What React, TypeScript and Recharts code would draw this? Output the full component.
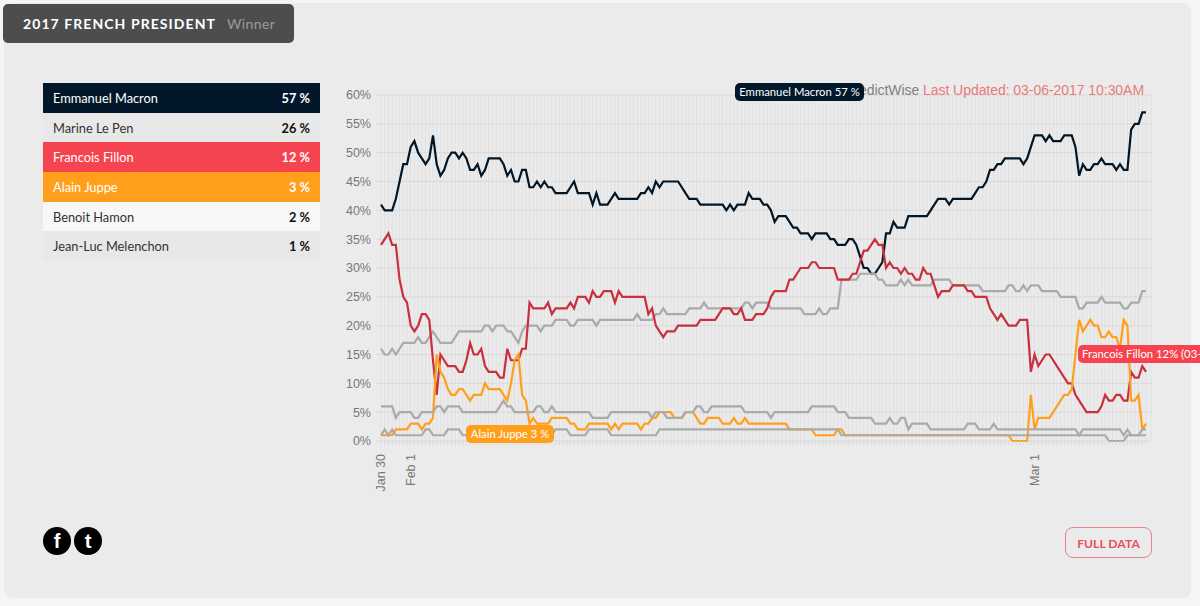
import { CartesianGrid, Line, LineChart, XAxis, YAxis } from "recharts";

const macron = [
  41, 40, 40, 40, 42, 45, 48, 48, 51, 52, 50, 49, 48, 49, 53, 48, 46, 47, 49, 50,
  50, 49, 50, 49, 47, 47, 48, 46, 47, 49, 49, 49, 49, 48, 46, 47, 45, 45, 47, 47,
  44, 44, 45, 44, 45, 44, 44, 43, 43, 43, 43, 44, 45, 43, 43, 43, 43, 41, 43, 41,
  41, 41, 42, 43, 42, 42, 42, 42, 42, 42, 43, 43, 44, 43, 45, 44, 45, 45, 45, 45,
  45, 44, 43, 42, 42, 42, 41, 41, 41, 41, 41, 41, 41, 40, 41, 40, 41, 41, 41, 43,
  42, 42, 42, 41, 41, 40, 38, 39, 39, 39, 38, 37, 37, 36, 36, 36, 35, 36, 36, 36,
  36, 35, 35, 34, 34, 34, 35, 35, 34, 32, 30, 30, 29, 29, 30, 31, 36, 36, 38, 37,
  37, 37, 39, 39, 39, 39, 39, 39, 40, 41, 42, 42, 42, 41, 42, 42, 42, 42, 42, 42,
  43, 44, 44, 45, 47, 47, 48, 48, 49, 49, 49, 49, 49, 48, 49, 51, 53, 53, 53, 52,
  53, 52, 52, 52, 53, 53, 53, 51, 46, 48, 47, 47, 48, 48, 49, 48, 48, 48, 47, 48,
  47, 47, 54, 55, 55, 57, 57,
];

const lePen = [
  16, 15, 15, 16, 15, 16, 17, 17, 17, 17, 18, 17, 17, 18, 19, 18, 17, 17, 17, 17,
  18, 19, 19, 19, 19, 19, 19, 19, 20, 20, 19, 20, 20, 20, 19, 19, 18, 17, 19, 20,
  20, 20, 20, 19, 20, 20, 20, 21, 21, 21, 21, 20, 20, 21, 21, 21, 21, 21, 20, 21,
  21, 21, 21, 21, 21, 21, 21, 21, 21, 22, 21, 21, 21, 21, 22, 22, 23, 22, 22, 22,
  22, 22, 22, 23, 23, 23, 23, 24, 23, 23, 23, 23, 23, 23, 23, 23, 23, 23, 24, 24,
  23, 24, 24, 24, 24, 23, 23, 23, 23, 23, 23, 23, 23, 23, 22, 22, 22, 22, 23, 22,
  22, 23, 23, 23, 28, 28, 28, 28, 28, 29, 29, 29, 29, 29, 28, 28, 27, 27, 27, 27,
  28, 27, 28, 27, 27, 27, 27, 27, 27, 28, 28, 28, 28, 28, 27, 27, 27, 27, 27, 27,
  27, 27, 26, 26, 26, 26, 26, 26, 26, 27, 27, 26, 26, 27, 26, 27, 27, 27, 26, 26,
  26, 26, 26, 25, 25, 25, 25, 25, 23, 23, 24, 24, 24, 24, 25, 24, 24, 24, 24, 24,
  23, 23, 24, 24, 24, 26, 26,
];

const fillon = [
  34, 35, 36, 34, 34, 28, 25, 24, 20, 19, 20, 22, 22, 21, 14, 8, 15, 14, 13, 13,
  13, 12, 12, 14, 17, 15, 15, 16, 13, 12, 12, 12, 11, 11, 16, 14, 14, 14, 16, 16,
  24, 23, 23, 23, 23, 24, 22, 23, 23, 23, 23, 24, 23, 25, 25, 25, 24, 26, 25, 25,
  26, 26, 26, 24, 26, 25, 25, 25, 25, 25, 25, 25, 22, 23, 20, 19, 18, 19, 19, 19,
  20, 20, 20, 20, 20, 20, 21, 21, 21, 21, 21, 22, 23, 23, 23, 22, 22, 23, 21, 21,
  21, 22, 22, 22, 23, 25, 26, 26, 26, 26, 28, 28, 29, 30, 30, 30, 31, 31, 30, 30,
  30, 30, 30, 28, 28, 28, 28, 29, 29, 31, 33, 33, 34, 35, 34, 34, 30, 31, 30, 30,
  29, 30, 29, 29, 28, 28, 30, 29, 29, 27, 25, 26, 26, 26, 27, 27, 27, 27, 26, 26,
  25, 25, 25, 25, 23, 22, 21, 22, 21, 20, 20, 20, 21, 21, 21, 12, 15, 13, 14, 15,
  15, 14, 13, 12, 11, 10, 10, 8, 7, 6, 5, 5, 5, 5, 6, 8, 7, 7, 8, 8,
  7, 7, 12, 11, 11, 13, 12,
];

const juppe = [
  1, 1, 1, 1, 2, 2, 2, 2, 3, 3, 3, 2, 3, 3, 4, 15, 12, 11, 9, 8,
  8, 9, 9, 8, 7, 8, 8, 8, 10, 9, 9, 9, 9, 8, 7, 10, 14, 15, 8, 7,
  3, 4, 3, 3, 3, 3, 4, 4, 4, 4, 4, 3, 3, 2, 2, 2, 3, 3, 3, 3,
  3, 3, 2, 3, 2, 3, 3, 3, 3, 3, 2, 3, 3, 4, 4, 5, 5, 5, 5, 4,
  4, 4, 5, 5, 5, 4, 3, 3, 4, 4, 4, 4, 3, 3, 3, 4, 3, 3, 4, 3,
  3, 3, 3, 3, 3, 3, 3, 3, 3, 3, 2, 2, 2, 2, 2, 2, 2, 1, 1, 1,
  1, 1, 1, 2, 2, 1, 1, 1, 1, 1, 1, 1, 1, 1, 1, 1, 1, 1, 1, 1,
  1, 1, 1, 1, 1, 1, 1, 1, 1, 1, 1, 1, 1, 1, 1, 1, 1, 1, 1, 1,
  1, 1, 1, 1, 1, 1, 1, 1, 1, 1, 0, 0, 0, 0, 0, 8, 2, 4, 4, 4,
  4, 5, 6, 7, 8, 8, 9, 15, 21, 19, 20, 21, 20, 20, 18, 18, 19, 18, 18, 16,
  21, 20, 7, 7, 8, 2, 3,
];

const hamon = [
  6, 6, 6, 6, 4, 5, 5, 5, 5, 4, 4, 5, 5, 5, 5, 6, 6, 5, 6, 6,
  6, 6, 5, 5, 5, 5, 5, 5, 5, 5, 5, 5, 6, 7, 6, 6, 5, 5, 5, 5,
  5, 5, 6, 6, 5, 5, 6, 5, 5, 5, 5, 5, 5, 5, 5, 5, 5, 4, 4, 4,
  4, 4, 5, 5, 5, 5, 5, 5, 5, 5, 5, 5, 5, 4, 5, 5, 5, 4, 4, 4,
  4, 4, 5, 5, 5, 6, 6, 5, 5, 6, 6, 6, 6, 6, 6, 6, 6, 6, 5, 5,
  5, 5, 5, 5, 5, 4, 5, 5, 5, 5, 5, 5, 5, 5, 5, 5, 6, 6, 6, 6,
  6, 6, 6, 5, 5, 5, 4, 4, 4, 4, 4, 4, 4, 3, 3, 3, 3, 4, 3, 3,
  4, 4, 2, 3, 3, 3, 3, 3, 2, 2, 2, 2, 2, 2, 2, 2, 2, 2, 3, 3,
  3, 2, 2, 2, 2, 3, 2, 2, 2, 2, 2, 2, 2, 2, 2, 2, 2, 2, 2, 2,
  2, 2, 2, 2, 2, 2, 2, 2, 1, 2, 2, 2, 2, 2, 2, 2, 2, 2, 2, 2,
  1, 2, 1, 1, 1, 2, 2,
];

const melenchon = [
  1, 2, 1, 2, 1, 1, 1, 1, 1, 1, 1, 1, 2, 2, 1, 1, 1, 1, 2, 2,
  2, 2, 1, 1, 1, 1, 1, 1, 1, 1, 1, 1, 1, 1, 1, 1, 1, 1, 1, 1,
  1, 1, 1, 1, 1, 1, 1, 2, 2, 2, 2, 1, 1, 1, 1, 1, 2, 2, 2, 2,
  2, 2, 1, 1, 1, 1, 1, 1, 1, 1, 1, 1, 1, 1, 1, 2, 2, 2, 2, 2,
  2, 2, 2, 2, 2, 2, 2, 2, 2, 2, 2, 2, 2, 2, 2, 2, 2, 2, 2, 2,
  2, 2, 2, 2, 2, 2, 2, 2, 2, 2, 2, 2, 2, 2, 2, 2, 2, 2, 2, 2,
  2, 2, 2, 2, 1, 1, 1, 1, 1, 1, 1, 1, 1, 1, 1, 1, 1, 1, 1, 1,
  1, 1, 1, 1, 1, 1, 1, 1, 1, 1, 1, 1, 1, 1, 1, 1, 1, 1, 1, 1,
  1, 1, 1, 1, 1, 1, 1, 1, 1, 1, 1, 1, 1, 1, 1, 1, 1, 1, 1, 1,
  1, 1, 1, 1, 1, 1, 1, 1, 1, 1, 1, 1, 1, 1, 1, 1, 0, 0, 0, 0,
  0, 1, 1, 1, 1, 1, 1,
];

const tickLabels: Record<number, string> = { 0: "Jan 30", 8: "Feb 1", 176: "Mar 1" };
const yTicks = [0, 5, 10, 15, 20, 25, 30, 35, 40, 45, 50, 55, 60];

const candidates = [
  { name: "Emmanuel Macron", pct: "57 %", bg: "#02172a", color: "#fff", strong: "#fff" },
  { name: "Marine Le Pen", pct: "26 %", bg: "#e8e8e8", color: "#333", strong: "#111" },
  { name: "Francois Fillon", pct: "12 %", bg: "#f5444f", color: "#fff", strong: "#fff" },
  { name: "Alain Juppe", pct: "3 %", bg: "#ff9f1c", color: "#fff", strong: "#fff" },
  { name: "Benoit Hamon", pct: "2 %", bg: "#f7f7f7", color: "#333", strong: "#111" },
  { name: "Jean-Luc Melenchon", pct: "1 %", bg: "#e8e8e8", color: "#333", strong: "#111" },
];

const data = macron.map((v, i) => ({
  i,
  macron: v,
  lePen: lePen[i],
  fillon: fillon[i],
  juppe: juppe[i],
  hamon: hamon[i],
  melenchon: melenchon[i],
}));

const uiFont = "Lato, sans-serif";
const chartFont = "'Liberation Sans', Arial, sans-serif";

function DateTick({ x, y, payload }: any) {
  const label = tickLabels[payload.value];
  if (!label) return null;
  return (
    <text
      transform={`translate(${x + 4},${y + 7}) rotate(-90)`}
      textAnchor="end"
      fontSize={12.5}
      fontFamily={chartFont}
      fill="#777"
    >
      {label}
    </text>
  );
}

function Pill({ text, bg, left, top, width }: { text: string; bg: string; left: number; top: number; width: number }) {
  return (
    <div
      style={{
        position: "absolute",
        left,
        top,
        width,
        height: 18,
        lineHeight: "18px",
        background: bg,
        color: "#fff",
        borderRadius: 5,
        fontSize: 11.3,
        fontFamily: uiFont,
        textAlign: "center",
        whiteSpace: "nowrap",
        overflow: "hidden",
      }}
    >
      {text}
    </div>
  );
}

function SocialIcon({ left, glyph }: { left: number; glyph: string }) {
  return (
    <div
      style={{
        position: "absolute",
        left,
        top: 527,
        width: 28,
        height: 28,
        borderRadius: "50%",
        background: "#000",
        color: "#fff",
        fontFamily: chartFont,
        fontWeight: 700,
        fontSize: 20,
        lineHeight: "28px",
        textAlign: "center",
      }}
    >
      {glyph}
    </div>
  );
}

export default function App() {
  return (
    <div style={{ position: "absolute", left: 0, top: 0, width: 1200, height: 606, overflow: "hidden", background: "#f5f5f5" }}>
      <div style={{ position: "absolute", left: 4, top: 3, width: 1187, height: 595, background: "#ebebeb", borderRadius: 8 }} />

      <div
        style={{
          position: "absolute",
          left: 3,
          top: 4,
          width: 291,
          height: 39,
          lineHeight: "39px",
          background: "#4d4d4d",
          borderRadius: 5,
          fontFamily: uiFont,
          whiteSpace: "nowrap",
        }}
      >
        <span style={{ position: "absolute", left: 20, color: "#fff", fontWeight: 700, fontSize: 14, letterSpacing: 1.07 }}>
          2017 FRENCH PRESIDENT
        </span>
        <span style={{ position: "absolute", left: 224, color: "#9a9a9a", fontSize: 14, letterSpacing: 0.4 }}>Winner</span>
      </div>

      <div style={{ position: "absolute", left: 43, top: 83, width: 277, fontFamily: uiFont, fontSize: 12.8 }}>
        {candidates.map((c) => (
          <div
            key={c.name}
            style={{
              height: 29.7,
              lineHeight: "30.5px",
              background: c.bg,
              color: c.color,
              padding: "0 10px",
              display: "flex",
              justifyContent: "space-between",
            }}
          >
            <span>{c.name}</span>
            <span style={{ color: c.strong, fontWeight: 700 }}>{c.pct}</span>
          </div>
        ))}
      </div>

      <div style={{ position: "absolute", left: 330, top: 80 }}>
        <LineChart
          width={830}
          height={440}
          data={data}
          margin={{ top: 15, right: 9, left: 0, bottom: 0 }}
        >
          <CartesianGrid horizontal={false} stroke="#e1e1e1" strokeWidth={1} />
          <CartesianGrid vertical={false} stroke="#d9d9d9" strokeWidth={1} />
          <XAxis
            dataKey="i"
            type="category"
            interval={0}
            height={79}
            padding={{ left: 0, right: 5 }}
            axisLine={false}
            tickLine={{ stroke: "#d9d9d9" }}
            tickSize={4}
            tick={<DateTick />}
          />
          <YAxis
            width={51}
            domain={[0, 60]}
            ticks={yTicks}
            tickFormatter={(v: number) => `${v}%`}
            axisLine={false}
            tickLine={{ stroke: "#d9d9d9" }}
            tickSize={5}
            tickMargin={5}
            tick={{ fontSize: 12.5, fill: "#777", fontFamily: chartFont }}
          />
          <Line dataKey="macron" stroke="#011627" strokeWidth={2.2} dot={false} isAnimationActive={false} />
          <Line dataKey="lePen" stroke="#aaaaaa" strokeWidth={2.2} dot={false} isAnimationActive={false} />
          <Line dataKey="fillon" stroke="#c9303e" strokeWidth={2.2} dot={false} isAnimationActive={false} />
          <Line dataKey="juppe" stroke="#ff9f1c" strokeWidth={2.2} dot={false} isAnimationActive={false} />
          <Line dataKey="hamon" stroke="#aaaaaa" strokeWidth={2.2} dot={false} isAnimationActive={false} />
          <Line dataKey="melenchon" stroke="#aaaaaa" strokeWidth={2.2} dot={false} isAnimationActive={false} />
        </LineChart>
      </div>

      <div style={{ position: "absolute", right: 56, top: 82, fontFamily: chartFont, fontSize: 14, letterSpacing: -0.05, whiteSpace: "nowrap" }}>
        <span style={{ color: "#808080" }}>PredictWise </span>
        <span style={{ color: "#e87a7a" }}>Last Updated: 03-06-2017 10:30AM</span>
      </div>

      <Pill text="Emmanuel Macron 57 %" bg="#02172a" left={735} top={83} width={129} />
      <Pill text="Alain Juppe 3 %" bg="#ff9f1c" left={466} top={425} width={88} />
      <div
        style={{
          position: "absolute",
          left: 1078,
          top: 345,
          width: 140,
          height: 18,
          lineHeight: "18px",
          paddingLeft: 4,
          background: "#f5444f",
          color: "#fff",
          borderRadius: 5,
          fontSize: 11.3,
          fontFamily: uiFont,
          whiteSpace: "nowrap",
        }}
      >
        Francois Fillon 12% (03-06)
      </div>

      <SocialIcon left={43} glyph="f" />
      <SocialIcon left={74} glyph="t" />

      <div
        style={{
          position: "absolute",
          left: 1065,
          top: 527,
          width: 87,
          height: 31,
          lineHeight: "31px",
          boxSizing: "border-box",
          border: "1px solid #e8838b",
          borderRadius: 8,
          color: "#e8505b",
          fontFamily: uiFont,
          fontWeight: 700,
          fontSize: 12.2,
          textAlign: "center",
        }}
      >
        FULL DATA
      </div>
    </div>
  );
}
